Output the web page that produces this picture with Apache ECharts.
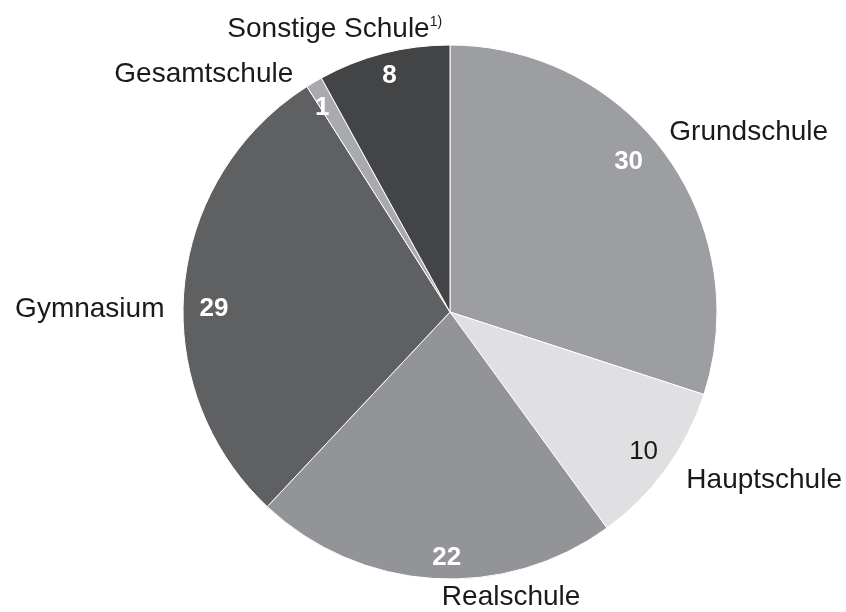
<!DOCTYPE html>
<html>
<head>
<meta charset="utf-8">
<script src="https://cdn.jsdelivr.net/npm/echarts@6/dist/echarts.min.js"></script>
<style>html,body{margin:0;padding:0;background:#fff}#c{width:846px;height:612px}</style>
</head>
<body>
<div id="c"></div>
<script>
const categories = ['Grundschule', 'Hauptschule', 'Realschule', 'Gymnasium', 'Gesamtschule', 'Sonstige Schule'];
const values = [30, 10, 22, 29, 1, 8];
const footnotes = ['', '', '', '', '', '1)'];

// styles
const colors = ['#9d9ea2', '#e0e0e2', '#939497', '#5f6062', '#a9aaad', '#434446'];
const valueColors = ['#ffffff', '#1a1a1a', '#ffffff', '#ffffff', '#ffffff', '#ffffff'];
const valueWeights = ['bold', 'normal', 'bold', 'bold', 'bold', 'bold'];
const nameOffsets = [[-13, -15], [4, 3], [153, 10], [-6, 26], [-12, 4], [67, -11]];
const valueOffsets = [[-18, -7], [-3, -3], [12, 3], [6, 20], [-4, 5], [0, -1]];

const FONT = '"Liberation Sans", Arial, sans-serif';
const chart = echarts.init(document.getElementById('c'));

const nameData = categories.map((c, i) => ({
  name: c,
  value: values[i],
  itemStyle: { color: colors[i] },
  label: {
    offset: nameOffsets[i],
    formatter: footnotes[i] ? '{n|' + c + '}{sup|' + footnotes[i] + '}' : '{n|' + c + '}'
  }
}));
const valueData = categories.map((c, i) => ({
  name: c,
  value: values[i],
  label: { color: valueColors[i], fontWeight: valueWeights[i], offset: valueOffsets[i] }
}));

chart.setOption({
  animation: false,
  series: [
    {
      type: 'pie',
      center: [450, 312],
      radius: [0, 267],
      startAngle: 90,
      clockwise: true,
      data: nameData,
      itemStyle: { borderColor: '#ffffff', borderWidth: 1 },
      label: {
        show: true,
        position: 'outside',
        alignTo: 'none',
        overflow: 'none',
        rotate: 0,
        rich: {
          n: { fontFamily: FONT, fontSize: 28, color: '#1a1a1a' },
          sup: { fontFamily: FONT, fontSize: 14, color: '#1a1a1a', padding: [0, 0, 14, 0] }
        }
      },
      labelLine: { show: false, length: 14, length2: 0 },
      labelLayout: { hideOverlap: false },
      emphasis: { disabled: true }
    },
    {
      type: 'pie',
      center: [450, 312],
      radius: [213, 267],
      startAngle: 90,
      clockwise: true,
      silent: true,
      data: valueData,
      itemStyle: { color: 'rgba(0,0,0,0)' },
      label: {
        show: true,
        position: 'inside',
        rotate: 0,
        formatter: '{c}',
        fontFamily: FONT,
        fontSize: 26
      },
      labelLine: { show: false },
      labelLayout: { hideOverlap: false },
      emphasis: { disabled: true }
    }
  ]
});
</script>
</body>
</html>
